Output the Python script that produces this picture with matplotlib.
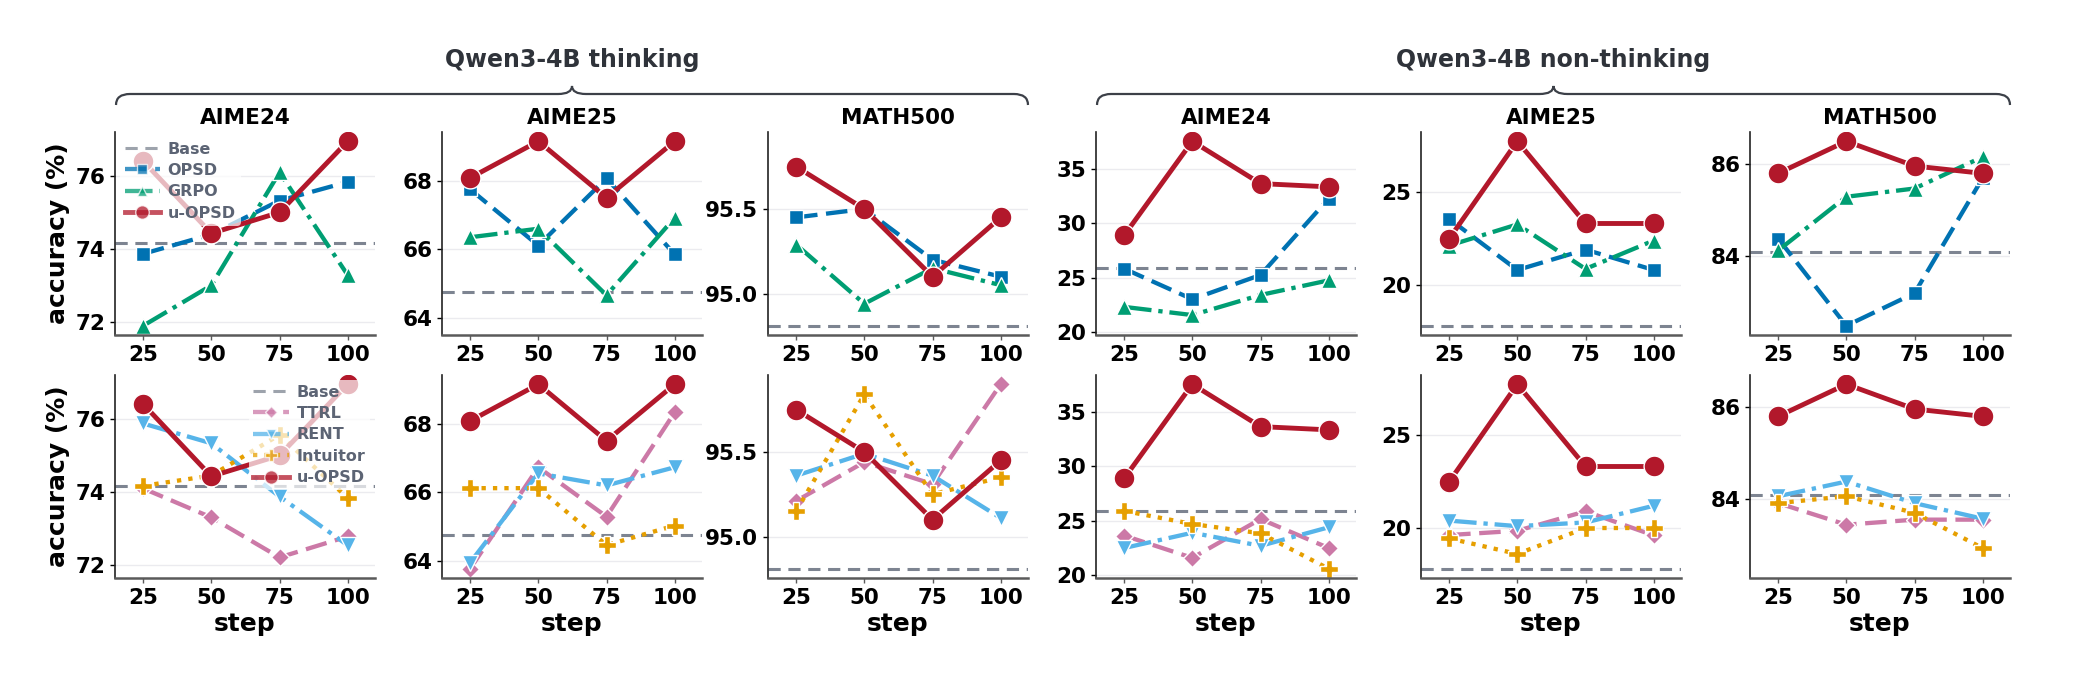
import matplotlib
matplotlib.use("Agg")
import matplotlib.pyplot as plt
from matplotlib.path import Path
from matplotlib.patches import PathPatch

plt.rcParams['font.family'] = ['DejaVu Sans']
plt.rcParams['font.weight'] = 'bold'
plt.rcParams['axes.labelweight'] = 'bold'
plt.rcParams['axes.titleweight'] = 'bold'

# ---- data ----
steps = [25, 50, 75, 100]
benchmarks = ['AIME24', 'AIME25', 'MATH500']
groups = ['Qwen3-4B thinking', 'Qwen3-4B non-thinking']

# one entry per column: thinking AIME24, AIME25, MATH500, non-thinking AIME24, AIME25, MATH500
base = [74.17, 64.74, 94.81, 25.85, 17.80, 84.09]

uopsd = [
    [76.40, 74.43, 75.00, 76.94],
    [68.08, 69.15, 67.50, 69.15],
    [95.75, 95.50, 95.10, 95.45],
    [28.87, 37.50, 33.62, 33.32],
    [22.49, 27.76, 23.32, 23.32],
    [85.80, 86.50, 85.96, 85.80],
]
opsd = [
    [73.87, 74.40, 75.32, 75.83],
    [67.75, 66.11, 68.07, 65.85],
    [95.45, 95.50, 95.20, 95.10],
    [25.83, 23.03, 25.25, 32.25],
    [23.57, 20.81, 21.91, 20.81],
    [84.38, 82.48, 83.19, 85.70],
]
grpo = [
    [71.91, 73.01, 76.09, 73.29],
    [66.35, 66.60, 64.66, 66.92],
    [95.29, 94.94, 95.15, 95.05],
    [22.33, 21.58, 23.42, 24.76],
    [22.13, 23.27, 20.87, 22.40],
    [84.12, 85.29, 85.47, 86.16],
]
ttrl = [
    [74.10, 73.31, 72.22, 72.79],
    [63.77, 66.73, 65.29, 68.33],
    [95.21, 95.44, 95.31, 95.90],
    [23.64, 21.60, 25.15, 22.50],
    [19.62, 19.85, 20.90, 19.60],
    [83.91, 83.44, 83.55, 83.55],
]
rent = [
    [75.87, 75.33, 73.88, 72.55],
    [63.95, 66.55, 66.20, 66.73],
    [95.36, 95.49, 95.36, 95.11],
    [22.50, 23.90, 22.70, 24.40],
    [20.40, 20.10, 20.30, 21.20],
    [84.06, 84.38, 83.91, 83.57],
]
intuitor = [
    [74.17, 74.45, 75.56, 73.84],
    [66.12, 66.12, 64.46, 65.03],
    [95.15, 95.84, 95.25, 95.35],
    [25.90, 24.70, 23.85, 20.60],
    [19.44, 18.60, 20.00, 20.00],
    [83.91, 84.06, 83.70, 82.93],
]

yticks = [[72, 74, 76], [64, 66, 68], [95.0, 95.5], [20, 25, 30, 35], [20, 25], [84, 86]]
ytick_labels = [['72', '74', '76'], ['64', '66', '68'], ['95.0', '95.5'],
                ['20', '25', '30', '35'], ['20', '25'], ['84', '86']]

# ---- styles ----
C_BASE = '#7d8491'
STY = {
    'OPSD':     dict(color='#0072b2', marker='s', ms=10.5, lw=3.1, dashes=(5, 2)),
    'GRPO':     dict(color='#009e73', marker='^', ms=11.5, lw=3.1, ls='-.'),
    'TTRL':     dict(color='#cc79a7', marker='D', ms=9, lw=3.1, dashes=(5, 2)),
    'RENT':     dict(color='#56b4e9', marker='v', ms=11.5, lw=3.1, ls='-.'),
    'Intuitor': dict(color='#e69f00', marker='P', ms=12.5, lw=3.1, ls=':'),
    'u-OPSD':   dict(color='#b2182b', marker='o', ms=15, lw=3.5, ls='-'),
}

W, H = 2075, 680
fig = plt.figure(figsize=(W / 100, H / 100), dpi=100)

lefts = [115, 442, 768, 1096, 1421, 1750]
pw = 260
rows_y = [(132, 335), (375, 578)]


def px_axes(x0, y0, y1):
    return fig.add_axes([x0 / W, 1 - y1 / H, pw / W, (y1 - y0) / H])


def style_axes(ax, col, bottom_row):
    for s in ['top', 'right']:
        ax.spines[s].set_visible(False)
    ax.spines['left'].set_color('#222222')
    ax.spines['left'].set_linewidth(1.2)
    ax.spines['bottom'].set_color('#5a5a5a')
    ax.spines['bottom'].set_linewidth(1.8)
    ax.set_xlim(14.7, 110)
    ax.set_xticks(steps)
    ax.set_yticks(yticks[col])
    ax.set_yticklabels(ytick_labels[col])
    ax.tick_params(axis='both', labelsize=15.5, length=3.5, width=1)
    ax.tick_params(axis='x', color='#5a5a5a')
    ax.yaxis.grid(True, color='#ebebef', lw=1)
    ax.set_axisbelow(True)
    if col == 0:
        ax.set_ylabel('accuracy (%)', fontsize=18)
    if bottom_row:
        ax.set_xlabel('step', fontsize=18, labelpad=3)


def draw_series(ax, name, ys):
    st = dict(STY[name])
    kw = dict(color=st.pop('color'), marker=st.pop('marker'), markersize=st.pop('ms'),
              markeredgecolor='white', markeredgewidth=1.0, lw=st.pop('lw'), label=name)
    if 'dashes' in st:
        kw['dashes'] = st['dashes']
    else:
        kw['ls'] = st['ls']
    ax.plot(steps, ys, **kw)


def add_legend(ax, loc):
    leg = ax.legend(loc=loc, fontsize=11.5, frameon=True, framealpha=0.7,
                    edgecolor='none', facecolor='white', labelspacing=0.4,
                    handlelength=2.2, borderpad=0.3, borderaxespad=0.3,
                    markerscale=0.65, handletextpad=0.5)
    for t in leg.get_texts():
        t.set_color('#5c6474')
    for h in leg.legend_handles:
        h.set_alpha(0.75)


for col in range(6):
    top = px_axes(lefts[col], *rows_y[0])
    bot = px_axes(lefts[col], *rows_y[1])
    bot.sharey(top)

    for ax in (top, bot):
        ax.axhline(base[col], color=C_BASE, lw=2.2, dashes=(4, 2.5), label='Base')

    draw_series(top, 'OPSD', opsd[col])
    draw_series(top, 'GRPO', grpo[col])
    draw_series(top, 'u-OPSD', uopsd[col])

    draw_series(bot, 'TTRL', ttrl[col])
    draw_series(bot, 'RENT', rent[col])
    draw_series(bot, 'Intuitor', intuitor[col])
    draw_series(bot, 'u-OPSD', uopsd[col])

    style_axes(top, col, False)
    style_axes(bot, col, True)
    top.set_title(benchmarks[col % 3], fontsize=15.5, pad=6)

    if col == 0:
        add_legend(top, 'upper left')
        add_legend(bot, 'upper right')


def brace(x0, x1, y=94, h_end=11, h_tip=8, r=14):
    xc = (x0 + x1) / 2
    P = lambda x, yy: (x / 100, (H - yy) / 100)
    verts = [P(x0, y + h_end), P(x0, y), P(x0 + r, y),
             P(xc - r, y), P(xc, y), P(xc, y - h_tip),
             P(xc, y), P(xc + r, y),
             P(x1 - r, y), P(x1, y), P(x1, y + h_end)]
    codes = [Path.MOVETO, Path.CURVE3, Path.CURVE3,
             Path.LINETO, Path.CURVE3, Path.CURVE3,
             Path.CURVE3, Path.CURVE3,
             Path.LINETO, Path.CURVE3, Path.CURVE3]
    fig.add_artist(PathPatch(Path(verts, codes), fill=False, lw=1.6,
                             edgecolor='#3c4048', transform=fig.dpi_scale_trans))
    return xc


for g, (a, b) in enumerate([(0, 2), (3, 5)]):
    x0 = lefts[a] + 1
    x1 = lefts[b] + pw
    xc = brace(x0, x1)
    fig.text(xc / W, 1 - 60 / H, groups[g], ha='center', va='center',
             fontsize=17, color='#2f333a')

fig.savefig('out.png', dpi=100)
